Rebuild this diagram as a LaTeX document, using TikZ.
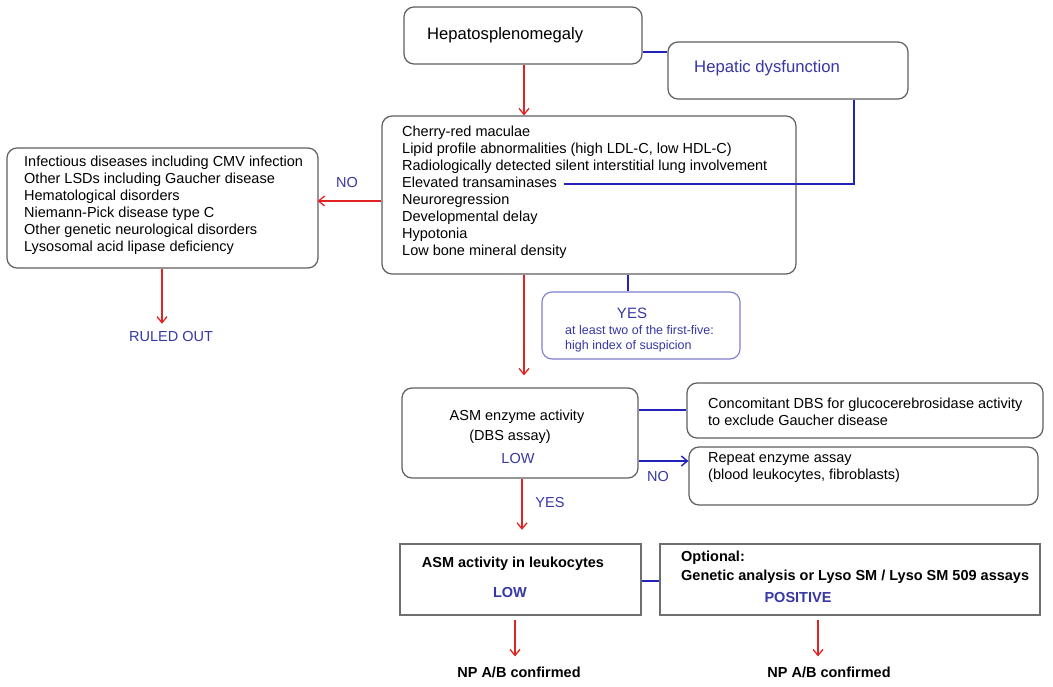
\documentclass[tikz,border=0pt]{standalone}
\usepackage{fontspec}
\setmainfont{Liberation Sans}
\usetikzlibrary{arrows.meta}
\definecolor{tb}{RGB}{55,55,165}
\definecolor{lb}{RGB}{35,35,185}
\definecolor{rd}{RGB}{225,35,35}
\definecolor{gr}{RGB}{95,95,95}
\definecolor{gr2}{RGB}{110,110,110}
\definecolor{yb}{RGB}{125,125,205}
\tikzset{
  rbox/.style={draw=gr, line width=1.2pt, rounded corners=10pt, inner sep=0pt},
  sbox/.style={draw=gr2, line width=2.4pt, inner sep=0pt},
  ybox/.style={draw=yb, line width=1.1pt, rounded corners=10pt, inner sep=0pt},
  txt/.style={inner sep=0pt, font=\fontsize{14.5}{17}\selectfont, align=left},
  btxt/.style={txt, font=\fontsize{14.5}{17}\selectfont\bfseries},
  blab/.style={txt, text=tb},
  rarr/.style={draw=rd, line width=1.3pt, -{Straight Barb[length=6pt,width=10pt]}},
  barr/.style={draw=lb, line width=1.4pt, -{Straight Barb[length=6pt,width=10pt]}},
  bline/.style={draw=lb, line width=1.4pt}
}
\begin{document}
\begin{tikzpicture}[x=1pt,y=-1pt]
\useasboundingbox[fill=white] (0,0) rectangle (1053,687);

% top boxes
\node[rbox, minimum width=238pt, minimum height=57pt] (hs) at (523,35.5) {};
\node[txt, anchor=west, font=\fontsize{16.6}{19}\selectfont] (hst) at (427,35) {Hepatosplenomegaly};
\node[rbox, minimum width=240pt, minimum height=57pt] (hd) at (788,70.5) {};
\node[txt, anchor=west, text=tb, font=\fontsize{16.7}{19}\selectfont] (hdt) at (694,68.5) {Hepatic dysfunction};

% main criteria box
\node[rbox, minimum width=414pt, minimum height=158pt] (main) at (589,195) {};
\node[txt, anchor=west] (mt) at (402,192.5) {Cherry-red maculae\\
Lipid profile abnormalities (high LDL-C, low HDL-C)\\
Radiologically detected silent interstitial lung involvement\\
Elevated transaminases\\
Neuroregression\\
Developmental delay\\
Hypotonia\\
Low bone mineral density};
\coordinate (et) at (564,184);

% differential box
\node[rbox, minimum width=311pt, minimum height=120pt] (ld) at (162.5,208) {};
\node[txt, anchor=west] (ldt) at (24,205.5) {Infectious diseases including CMV infection\\
Other LSDs including Gaucher disease\\
Hematological disorders\\
Niemann-Pick disease type C\\
Other genetic neurological disorders\\
Lysosomal acid lipase deficiency};
\node[blab] (no1) at (347,183) {NO};
\node[blab] (ro) at (171,337) {RULED OUT};

% YES box
\node[ybox, minimum width=198pt, minimum height=67pt] (yb) at (641,325.5) {};
\node[txt, text=tb, font=\fontsize{15}{17}\selectfont] (yest) at (632,313) {YES};
\node[txt, anchor=west, text=tb, font=\fontsize{12.5}{15}\selectfont] (yess) at (565,338.5) {at least two of the first-five:\\ high index of suspicion};

% ASM enzyme box
\node[rbox, minimum width=236pt, minimum height=90pt] (asm) at (520,433) {};
\node[txt] (asm1) at (517,417) {ASM enzyme activity};
\node[txt] (asm2) at (510,437) {(DBS assay)};
\node[blab] (asm3) at (518,459) {LOW};

\node[rbox, minimum width=356pt, minimum height=55pt] (conc) at (865,410.5) {};
\node[txt, anchor=west] (conct) at (708,411.5) {Concomitant DBS for glucocerebrosidase activity\\ to exclude Gaucher disease};
\node[rbox, minimum width=349pt, minimum height=58pt] (rep) at (863.5,476) {};
\node[txt, anchor=west] (rept) at (708,468) {Repeat enzyme assay\\ (blood leukocytes, fibroblasts)};
\node[blab] (no2) at (658,477) {NO};
\node[blab] (yes2) at (550,503) {YES};

% bottom boxes
\node[sbox, minimum width=241pt, minimum height=71pt] (lbx) at (520.5,579.5) {};
\node[btxt] (lbt) at (513,564) {ASM activity in leukocytes};
\node[blab, font=\fontsize{14.5}{17}\selectfont\bfseries] (lbl) at (510,593) {LOW};
\node[sbox, minimum width=380pt, minimum height=71pt] (rbx) at (850,579.5) {};
\node[btxt, anchor=west] (rbt1) at (681,558) {Optional:};
\node[btxt, anchor=west] (rbt2) at (681,577) {Genetic analysis or Lyso SM / Lyso SM 509 assays};
\node[blab, font=\fontsize{14.5}{17}\selectfont\bfseries] (rbt3) at (798,598) {POSITIVE};

\node[btxt] (np1) at (519,672) {NP A/B confirmed};
\node[btxt] (np2) at (829,672) {NP A/B confirmed};

% connectors
\draw[rarr] (hs.south -| 524,0) -- (main.north -| 524,0);
\draw[bline] (hs.east |- 0,52) -- (hd.west |- 0,52);
\draw[bline] (hd.south -| 854,0) -- (854,184) -- (et);
\draw[rarr, shorten >=-1pt] (main.west |- 0,201) -- (ld.east |- 0,201);
\draw[rarr, shorten >=8pt] (ld.south -| 162,0) -- (ro.north -| 162,0);
\draw[rarr, shorten >=12pt] (main.south -| 524,0) -- (asm.north -| 524,0);
\draw[bline] (main.south -| 628,0) -- (yb.north -| 628,0);
\draw[bline] (asm.east |- 0,410) -- (conc.west |- 0,410);
\draw[barr] (asm.east |- 0,461) -- (rep.west |- 0,461);
\draw[rarr, shorten >=13pt] (asm.south -| 522,0) -- (lbx.north -| 522,0);
\draw[bline] (lbx.east |- 0,581) -- (rbx.west |- 0,581);
\draw[rarr, shorten <=4pt, shorten >=10pt] (lbx.south -| 515,0) -- (np1.north -| 515,0);
\draw[rarr, shorten <=4pt, shorten >=10pt] (rbx.south -| 818,0) -- (np2.north -| 818,0);
\end{tikzpicture}
\end{document}
